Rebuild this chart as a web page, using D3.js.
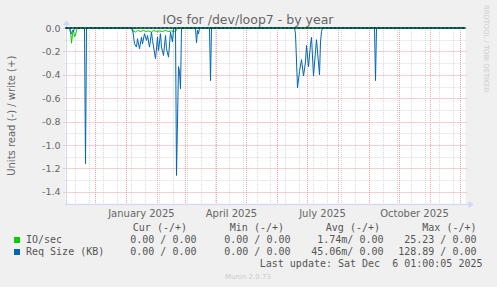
<!DOCTYPE html>
<html>
<head>
<meta charset="utf-8">
<script src="https://cdn.jsdelivr.net/npm/d3@7"></script>
<style>
    body { margin: 0; background: #F0F0F0; }
    svg { display: block; }
    text { font-family: "DejaVu Sans", sans-serif; fill: #666; }
    .mono { font-family: "DejaVu Sans Mono", monospace; white-space: pre; fill: #555; }
</style>
</head>
<body>
<div id="chart"></div>
<script>
// 400 days, one step = one day after the start
const startDate = new Date(Date.UTC(2024, 10, 1, 1));
const endDate = new Date(Date.UTC(2025, 11, 6, 1));

// IO/sec, read side (drawn negative)
const ioDays = [0, 4, 5, 6, 7, 8, 9, 10, 11, 12,
    66, 67, 68, 70, 72, 75, 78, 80, 83, 86, 88, 91, 94, 97, 100, 103, 106, 109, 111, 112, 400];
const ioRead = [0, 0, -0.02, -0.13, -0.05, -0.02, -0.075, -0.06, -0.02, 0,
    0, -0.03, -0.025, -0.035, -0.02, -0.03, -0.02, -0.03, -0.025, -0.035, -0.02, -0.03, -0.025, -0.03, -0.02, -0.03, -0.025, -0.03, -0.02, 0, 0];

// Req Size (KB), read side
const reqDays = [0, 4, 5, 6, 7, 8, 9, 19, 20, 21, 26, 27, 28, 33, 34, 35,
    67, 69, 71, 72, 74, 76, 77, 79, 81, 82, 84, 86, 87, 90, 92, 93, 95, 96, 98, 100, 101, 103, 105, 107, 108, 110,
    111, 113, 114, 115, 116, 130, 131, 132, 133, 134, 144, 145, 146,
    183, 184, 185, 229, 230, 232, 234, 236, 238, 240, 241, 243, 245, 246, 248, 250, 251, 254, 255, 256, 257,
    309, 310, 311, 328, 329, 330, 355, 356, 357, 400];
const reqRead = [0, 0, -0.04, -0.05, -0.02, -0.03, 0, 0, -1.16, 0, 0, -0.01, 0, 0, -0.01, 0,
    0, -0.135, -0.163, -0.092, -0.178, -0.078, -0.135, -0.049, -0.106, -0.064, -0.163, -0.035, -0.106, -0.263, -0.078, -0.192, -0.049, -0.163, -0.235, -0.064, -0.178, -0.249, -0.035, -0.12, -0.007, 0,
    -1.26, -0.33, -0.37, -0.52, 0, 0, -0.126, -0.02, -0.05, 0, 0, -0.45, 0,
    0, -0.01, 0, 0, -0.05, -0.51, -0.37, -0.27, -0.41, -0.29, -0.15, -0.33, -0.14, -0.08, -0.41, -0.2, -0.1, -0.4, -0.12, -0.03, 0,
    0, -0.45, 0, 0, -0.01, 0, 0, -0.01, 0, 0];

// write side (positive), flat zero
const writeDays = [0, 400];
const ioWrite = [0, 0];
const reqWrite = [0, 0];

const yTicks = [0, -0.2, -0.4, -0.6, -0.8, -1.0, -1.2, -1.4];
const yMinor = [-0.1, -0.3, -0.5, -0.7, -0.9, -1.1, -1.3];
const xLabels = ["January 2025", "April 2025", "July 2025", "October 2025"];
const xLabelDates = [Date.UTC(2025, 0, 16), Date.UTC(2025, 3, 16), Date.UTC(2025, 6, 16), Date.UTC(2025, 9, 16)];

const legendNames = ["IO/sec", "Req Size (KB)"];
const legendColors = ["#00CC00", "#0066B3"];
const legendHeaders = ["Cur (-/+)", "Min (-/+)", "Avg (-/+)", "Max (-/+)"];
const curVals = ["0.00 / 0.00", "0.00 / 0.00"];
const minVals = ["0.00 / 0.00", "0.00 / 0.00"];
const avgVals = ["1.74m/ 0.00", "45.06m/ 0.00"];
const maxVals = ["25.23 / 0.00", "128.89 / 0.00"];

drawChart();

function drawChart() {
    const width = 497;
    const height = 287;
    const left = 65.5, right = 465.5, top = 28, bottom = 203.5;

    const svg = d3.select("#chart").append("svg")
        .attr("width", width)
        .attr("height", height);

    svg.append("rect")
        .attr("width", width)
        .attr("height", height)
        .attr("fill", "#F0F0F0");

    svg.append("rect")
        .attr("x", left)
        .attr("y", top)
        .attr("width", right - left)
        .attr("height", bottom - top)
        .attr("fill", "#FFFFFF");

    const x = d3.scaleUtc().domain([startDate, endDate]).range([left, right]);
    const y = d3.scaleLinear().domain([-1.5, 0]).range([bottom, top]);
    const dayX = d => x(d3.utcDay.offset(startDate, d));

    // minor grid: every second week, and the tenths
    const weeks = d3.range(9, 400, 14);
    svg.append("g")
        .selectAll("line")
        .data(weeks)
        .join("line")
        .attr("x1", d => Math.round(dayX(d)) + 0.5)
        .attr("x2", d => Math.round(dayX(d)) + 0.5)
        .attr("y1", top)
        .attr("y2", bottom + 2)
        .attr("stroke", "#DADADA")
        .attr("stroke-dasharray", "1,1");

    svg.append("g")
        .selectAll("line")
        .data(yMinor)
        .join("line")
        .attr("x1", left - 2)
        .attr("x2", right + 2)
        .attr("y1", d => Math.round(y(d)) + 0.5)
        .attr("y2", d => Math.round(y(d)) + 0.5)
        .attr("stroke", "#DADADA")
        .attr("stroke-dasharray", "1,1");

    // major grid: months, and every 0.2
    const months = d3.utcMonth.range(startDate, endDate).filter(d => x(d) > left + 1);
    svg.append("g")
        .selectAll("line")
        .data(months)
        .join("line")
        .attr("x1", d => Math.round(x(d)) + 0.5)
        .attr("x2", d => Math.round(x(d)) + 0.5)
        .attr("y1", top)
        .attr("y2", bottom + 2)
        .attr("stroke", "#F2A0A0")
        .attr("stroke-dasharray", "1,1");

    svg.append("g")
        .selectAll("line")
        .data(yTicks)
        .join("line")
        .attr("x1", left - 2)
        .attr("x2", right + 2)
        .attr("y1", d => Math.round(y(d)) + 0.5)
        .attr("y2", d => Math.round(y(d)) + 0.5)
        .attr("stroke", "#F2A0A0")
        .attr("stroke-dasharray", "1,1");

    // axes with arrows
    svg.append("line")
        .attr("x1", left).attr("x2", right + 4)
        .attr("y1", Math.round(bottom) + 0.5).attr("y2", Math.round(bottom) + 0.5)
        .attr("stroke", "#CFD6F8");
    svg.append("path")
        .attr("d", `M${right + 3},${Math.round(bottom) - 3} L${right + 8},${Math.round(bottom) + 0.5} L${right + 3},${Math.round(bottom) + 4} Z`)
        .attr("fill", "#CFD6F8");
    svg.append("line")
        .attr("x1", Math.round(left) + 0.5).attr("x2", Math.round(left) + 0.5)
        .attr("y1", bottom + 2).attr("y2", top - 4)
        .attr("stroke", "#CFD6F8");
    svg.append("path")
        .attr("d", `M${Math.round(left) - 3},${top - 3} L${Math.round(left) + 0.5},${top - 8} L${Math.round(left) + 4},${top - 3} Z`)
        .attr("fill", "#CFD6F8");

    // y tick labels
    svg.append("g")
        .attr("text-anchor", "end")
        .attr("font-size", "9.5px")
        .selectAll("text")
        .data(yTicks)
        .join("text")
        .attr("x", 60.5)
        .attr("y", d => y(d) + 3.5)
        .text(d => d3.format(".1f")(d).replace("−", "-"));

    // x labels
    svg.append("g")
        .attr("text-anchor", "middle")
        .attr("font-size", "10px")
        .selectAll("text")
        .data(xLabels)
        .join("text")
        .attr("x", (d, i) => x(new Date(xLabelDates[i])))
        .attr("y", 216.5)
        .text(d => d);

    // series
    const line = d3.line()
        .x(d => dayX(d[0]))
        .y(d => y(d[1]));

    const series = [
        { days: ioDays, values: ioRead, color: legendColors[0] },
        { days: reqDays, values: reqRead, color: legendColors[1] },
        { days: writeDays, values: ioWrite, color: legendColors[0] },
        { days: writeDays, values: reqWrite, color: legendColors[1] }
    ];

    svg.append("g")
        .selectAll("path")
        .data(series)
        .join("path")
        .attr("fill", "none")
        .attr("stroke", d => d.color)
        .attr("stroke-width", 1)
        .attr("stroke-linejoin", "round")
        .attr("d", d => line(d.days.map((day, i) => [day, d.values[i]])));

    svg.append("line")
        .attr("x1", left)
        .attr("x2", right)
        .attr("y1", y(0))
        .attr("y2", y(0))
        .attr("stroke", "#000")
        .attr("stroke-dasharray", "3,1");

    // title and side texts
    svg.append("text")
        .attr("x", 248)
        .attr("y", 24)
        .attr("text-anchor", "middle")
        .attr("font-size", "12.5px")
        .text("IOs for /dev/loop7 - by year");

    svg.append("text")
        .attr("transform", `translate(14.5, ${(top + bottom) / 2}) rotate(-90)`)
        .attr("text-anchor", "middle")
        .attr("font-size", "10px")
        .text("Units read (-) / write (+)");

    svg.append("text")
        .attr("transform", "translate(484, 5) rotate(90)")
        .attr("font-size", "6.8px")
        .attr("fill", "#CCCCCC")
        .style("fill", "#CCCCCC")
        .text("RRDTOOL / TOBI OETIKER");

    // legend
    const colRight = [187, 284, 380, 476.5];
    const valRight = [196.5, 290.5, 383.5, 476.5];
    const columns = [curVals, minVals, avgVals, maxVals];

    svg.append("g")
        .attr("text-anchor", "end")
        .selectAll("text")
        .data(legendHeaders)
        .join("text")
        .attr("class", "mono")
        .attr("font-size", "10px")
        .attr("x", (d, i) => colRight[i])
        .attr("y", 231)
        .text(d => d);

    legendNames.forEach((name, r) => {
        const rowY = 243 + r * 12;
        svg.append("rect")
            .attr("x", 14)
            .attr("y", rowY - 6)
            .attr("width", 6)
            .attr("height", 6)
            .attr("fill", legendColors[r]);
        svg.append("text")
            .attr("class", "mono")
            .attr("font-size", "10px")
            .attr("x", 26)
            .attr("y", rowY)
            .text(name);
        columns.forEach((col, c) => {
            svg.append("text")
                .attr("class", "mono")
                .attr("font-size", "10px")
                .attr("text-anchor", "end")
                .attr("x", valRight[c])
                .attr("y", rowY)
                .text(col[r]);
        });
    });

    svg.append("text")
        .attr("class", "mono")
        .attr("font-size", "10px")
        .attr("text-anchor", "end")
        .attr("x", 482.5)
        .attr("y", 267)
        .text("Last update: Sat Dec  6 01:00:05 2025");

    svg.append("text")
        .attr("x", 248)
        .attr("y", 279)
        .attr("text-anchor", "middle")
        .attr("font-size", "7px")
        .style("fill", "#CCCCCC")
        .text("Munin 2.0.73");
}
</script>
</body>
</html>
